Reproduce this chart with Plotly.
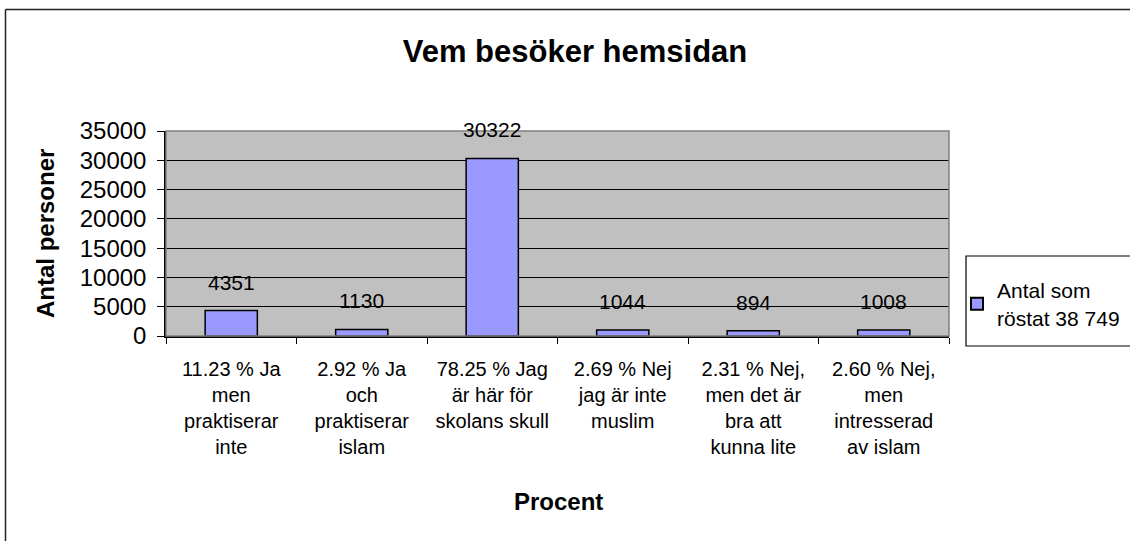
import plotly.graph_objects as go

categories = [
    "11.23 % Ja<br>men<br>praktiserar<br>inte",
    "2.92 % Ja<br>och<br>praktiserar<br>islam",
    "78.25 % Jag<br>är här för<br>skolans skull",
    "2.69 % Nej<br>jag är inte<br>muslim",
    "2.31 % Nej,<br>men det är<br>bra att<br>kunna lite",
    "2.60 % Nej,<br>men<br>intresserad<br>av islam",
]
values = [4351, 1130, 30322, 1044, 894, 1008]
series_name = "Antal som<br>röstat 38 749"
title_text = "Vem besöker hemsidan"
y_title = "Antal personer"
x_title = "Procent"
y_ticks = [0, 5000, 10000, 15000, 20000, 25000, 30000, 35000]

FONT = "Liberation Sans, Arial, sans-serif"
W, H = 1130, 541
L, R, T, B = 166, 949, 131, 336  # plot area pixel bounds


def px_x(p):
    return (p - L) / (R - L)


def px_y(p):
    return (B - p) / (B - T)


fig = go.Figure()
fig.add_trace(go.Bar(
    x=categories, y=values, name=series_name, width=0.4,
    marker=dict(color="#9999FF", line=dict(color="black", width=1.5)),
    showlegend=True,
))

annotations = []
for c, v in zip(categories, values):
    annotations.append(dict(
        x=c, y=v, xref="x", yref="y", text=str(v), showarrow=False,
        yanchor="bottom", yshift=15, font=dict(family=FONT, size=21, color="black"),
    ))
annotations.append(dict(
    x=px_x(45), y=px_y(234), xref="paper", yref="paper", text="<b>%s</b>" % y_title,
    textangle=-90, showarrow=False, xanchor="center", yanchor="middle",
    font=dict(family=FONT, size=24, color="black"),
))
annotations.append(dict(
    x=px_x(558), y=px_y(501), xref="paper", yref="paper", text="<b>%s</b>" % x_title,
    showarrow=False, xanchor="center", yanchor="middle",
    font=dict(family=FONT, size=24, color="black"),
))

shapes = [
    # outer chart border (top and left)
    dict(type="line", xref="paper", yref="paper", x0=px_x(5.5), x1=px_x(1135),
         y0=px_y(9.5), y1=px_y(9.5), line=dict(color="#222222", width=1.5)),
    dict(type="line", xref="paper", yref="paper", x0=px_x(5.5), x1=px_x(5.5),
         y0=px_y(9.5), y1=px_y(545), line=dict(color="#222222", width=1.5)),
    # plot area border
    dict(type="rect", xref="paper", yref="paper", x0=0, x1=1, y0=0, y1=1,
         line=dict(color="#808080", width=1.5), layer="above"),
    # legend frame
    dict(type="rect", xref="paper", yref="paper", x0=px_x(966), x1=px_x(1140),
         y0=px_y(346), y1=px_y(256), line=dict(color="black", width=1.2),
         fillcolor="white", layer="below"),
]

fig.update_layout(
    width=W, height=H,
    margin=dict(l=L, r=W - R, t=T, b=H - B, autoexpand=False),
    paper_bgcolor="white", plot_bgcolor="#C0C0C0",
    title=dict(text="<b>%s</b>" % title_text, x=575 / W, xref="container", xanchor="center",
               y=1 - 51 / H, yref="container", yanchor="middle",
               font=dict(family=FONT, size=31, color="black")),
    font=dict(family=FONT, color="black"),
    bargap=0.6,
    legend=dict(x=px_x(957), y=px_y(270), xref="paper", yref="paper",
                xanchor="left", yanchor="top",
                borderwidth=0, bgcolor="rgba(0,0,0,0)",
                font=dict(family=FONT, size=21, color="black"),
                itemsizing="constant"),
    annotations=annotations,
    shapes=shapes,
)
fig.update_xaxes(
    showline=True, linecolor="black", linewidth=1.5,
    ticks="outside", tickson="boundaries", ticklen=6, tickcolor="black",
    tickfont=dict(family=FONT, size=20, color="black"),
    ticklabelstandoff=14,
    showgrid=False, automargin=False,
)
fig.update_yaxes(
    range=[0, 35000], tickvals=y_ticks, ticktext=[str(t) for t in y_ticks],
    showline=True, linecolor="black", linewidth=1.5,
    ticks="outside", ticklen=7, tickcolor="black",
    tickfont=dict(family=FONT, size=24, color="black"),
    ticklabelstandoff=6,
    showgrid=True, gridcolor="black", gridwidth=1, zeroline=False, automargin=False,
)

fig.write_html(
    "out.html",
    config={"displayModeBar": False},
    post_script="document.body.style.margin='0';document.body.style.overflow='hidden';",
)
